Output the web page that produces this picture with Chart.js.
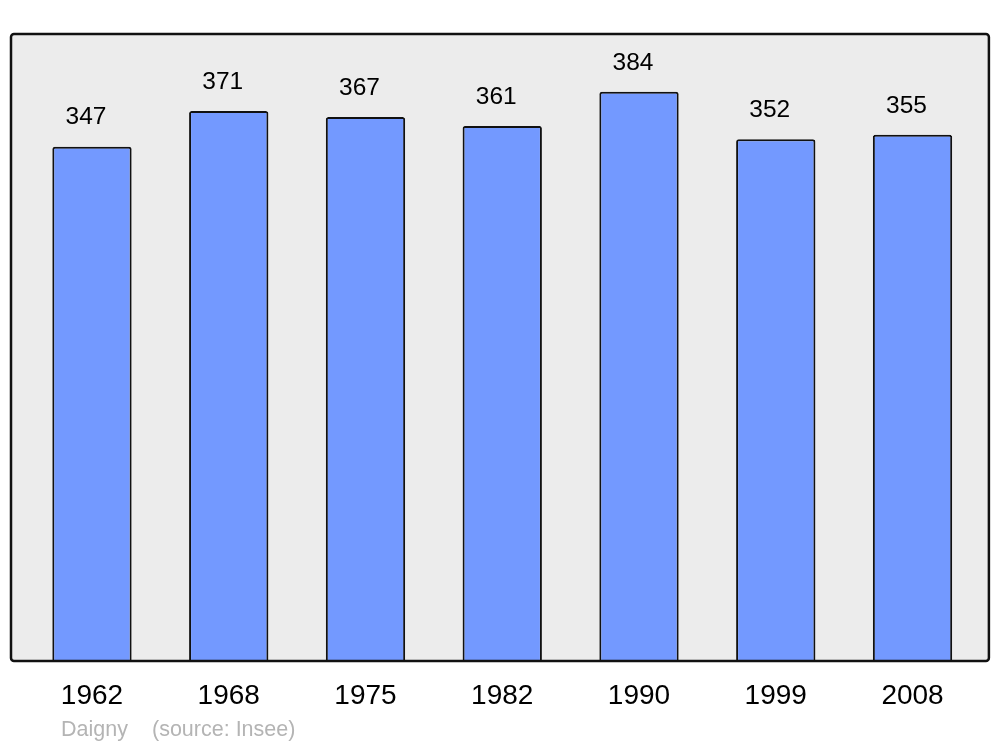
<!DOCTYPE html>
<html>
<head>
<meta charset="utf-8">
<script src="https://cdn.jsdelivr.net/npm/chart.js@4/dist/chart.umd.min.js"></script>
<style>
  body { margin: 0; background: #fff; }
  #wrap { width: 1000px; height: 747px; }
</style>
</head>
<body>
<div id="wrap"><canvas id="chart" width="1000" height="747"></canvas></div>
<script>
// Data
const years = ['1962', '1968', '1975', '1982', '1990', '1999', '2008'];
const population = [347, 371, 367, 361, 384, 352, 355];
const footerName = 'Daigny';
const footerSource = '(source: Insee)';

const FONT = "'Liberation Sans', Arial, sans-serif";

// grey box behind the bars, a bit wider than the category band
const frame = {
    id: 'frame',
    beforeDatasetsDraw(chart) {
        const a = chart.chartArea, ctx = chart.ctx;
        ctx.save();
        ctx.beginPath();
        ctx.roundRect(a.left - 12.6, a.top, a.right - a.left + 20.6, a.bottom - a.top, 3);
        ctx.fillStyle = '#ececec';
        ctx.fill();
        ctx.restore();
    },
    afterDatasetsDraw(chart) {
        const a = chart.chartArea, ctx = chart.ctx;
        ctx.save();
        ctx.beginPath();
        ctx.roundRect(a.left - 12.6, a.top, a.right - a.left + 20.6, a.bottom - a.top, 3);
        ctx.lineWidth = 2.5;
        ctx.strokeStyle = '#111';
        ctx.stroke();

        // value labels above bars
        ctx.font = '24.5px ' + FONT;
        ctx.fillStyle = '#000';
        ctx.textAlign = 'center';
        ctx.textBaseline = 'middle';
        chart.getDatasetMeta(0).data.forEach((bar, i) => {
            ctx.fillText(population[i], bar.x - 6, bar.y - 29);
        });

        // footer
        ctx.font = '21.5px ' + FONT;
        ctx.fillStyle = '#b4b4b4';
        ctx.textAlign = 'left';
        ctx.fillText(footerName, 61, 730);
        ctx.fillText(footerSource, 152, 730);
        ctx.restore();
    }
};

new Chart(document.getElementById('chart'), {
    type: 'bar',
    data: {
        labels: years,
        datasets: [{
            data: population,
            backgroundColor: '#7399ff',
            borderColor: '#111',
            borderWidth: 2,
            borderRadius: 2.5,
            borderSkipped: 'bottom',
            barPercentage: 0.58,
            categoryPercentage: 1
        }]
    },
    options: {
        responsive: false,
        animation: false,
        layout: { padding: { left: 23.6, right: 19.1, top: 34, bottom: 16.4 } },
        plugins: { legend: { display: false }, tooltip: { enabled: false } },
        scales: {
            x: {
                grid: { display: false, drawTicks: false },
                border: { display: false },
                ticks: {
                    padding: 18,
                    color: '#000',
                    font: { size: 28, family: FONT }
                }
            },
            y: {
                display: false,
                min: 0,
                max: 423
            }
        }
    },
    plugins: [frame]
});
</script>
</body>
</html>
